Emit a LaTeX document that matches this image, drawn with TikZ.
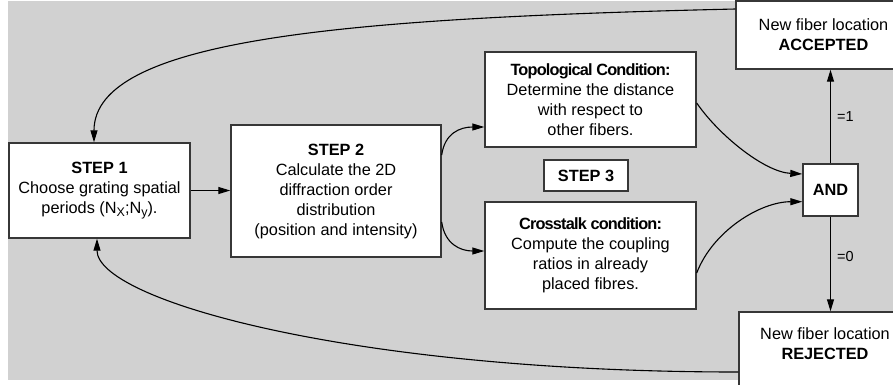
\documentclass[tikz,border=0pt]{standalone}
\usepackage{fontspec}
\setmainfont{Liberation Sans}
\newfontfamily\hdfont{Liberation Sans}[LetterSpace=-5]
\usetikzlibrary{arrows.meta,calc}
\definecolor{bgc}{RGB}{209,209,209}
\definecolor{boxc}{RGB}{55,55,55}
\newcommand{\subX}[1]{\raisebox{-3.5pt}{\fontsize{12.5}{12.5}\selectfont #1}}
\tikzset{
  box/.style={draw=boxc, line width=1.4pt, fill=white, inner sep=0pt, align=center,
    font=\fontsize{16.3}{20}\selectfont},
  txt/.style={inner sep=0pt, align=center, font=\fontsize{16.3}{20}\selectfont},
  conn/.style={-{Triangle[length=12pt,width=7pt]}, line width=1.1pt},
  lbl/.style={inner sep=0pt, font=\fontsize{14.5}{16}\selectfont}
}
\begin{document}
\begin{tikzpicture}[x=1pt,y=-1pt]
\useasboundingbox (0,0) rectangle (893,384);
\fill[bgc] (8,1) rectangle (893,380);

\node[box, minimum width=181, minimum height=95] (s1) at (99.5,190.5)
  {\textbf{STEP 1}\\Choose grating spatial\\periods (N\subX{X};N\subX{y}).};
\node[box, minimum width=210, minimum height=132] (s2) at (336,191)
  {\textbf{STEP 2}\\Calculate the 2D\\diffraction order\\distribution\\(position and intensity)};
\node[box, minimum width=211, minimum height=95] (topo) at (590.5,99.5)
  {{\hdfont\bfseries Topological Condition:}\\Determine the distance\\with respect to\\other fibers.};
\node[box, minimum width=84, minimum height=31] (s3) at (586,175.5) {\textbf{STEP 3}};
\node[box, minimum width=211, minimum height=107] (cross) at (590.5,255.5)
  {{\hdfont\bfseries Crosstalk condition:}\\Compute the coupling\\ratios in already\\placed fibres.};
\node[box, minimum width=55, minimum height=52] (and) at (830.5,190) {\textbf{AND}};
\node[box, minimum width=175, minimum height=68] (acc) at (823.5,35)
  {New fiber location\\\textbf{ACCEPTED}};
\node[box, minimum width=172, minimum height=78] (rej) at (825,351) {};
\node[txt] (rejt) at (825,344) {New fiber location\\\textbf{REJECTED}};

% connectors
\draw[conn] (s1.east) -- (s1.east -| s2.west);
\draw[conn] ($(s2.east)+(0,-36)$) .. controls +(3,-22) and +(-24,0) .. ($(topo.west)+(0,27.5)$);
\draw[conn] ($(s2.east)+(0,31)$) .. controls +(3,22) and +(-24,0) .. ($(cross.west)+(0,-4.5)$);
\draw[conn] ($(topo.east)+(0,3.5)$) .. controls +(22,32) and +(-38,-2) .. ($(and.west)+(0,-16)$);
\draw[conn] ($(cross.east)+(0,17.5)$) .. controls +(16,-42) and +(-42,0) .. ($(and.west)+(0,11.7)$);
\draw[conn] (and.north) -- (and.north |- acc.south) node[lbl, pos=0.5, right=6pt] (l1) {=1};
\draw[conn] (and.south) -- (and.south |- rej.north) node[lbl, pos=0.42, right=6pt] (l0) {=0};
\draw[conn] ($(acc.west)+(0,-26)$) .. controls (350,18) and (94,38) .. ($(s1.north)+(-5.5,0)$);
\draw[conn] ($(rej.west)+(0,21)$) .. controls (350,372) and (97,300) .. ($(s1.south)+(-2.5,0)$);
\end{tikzpicture}
\end{document}
